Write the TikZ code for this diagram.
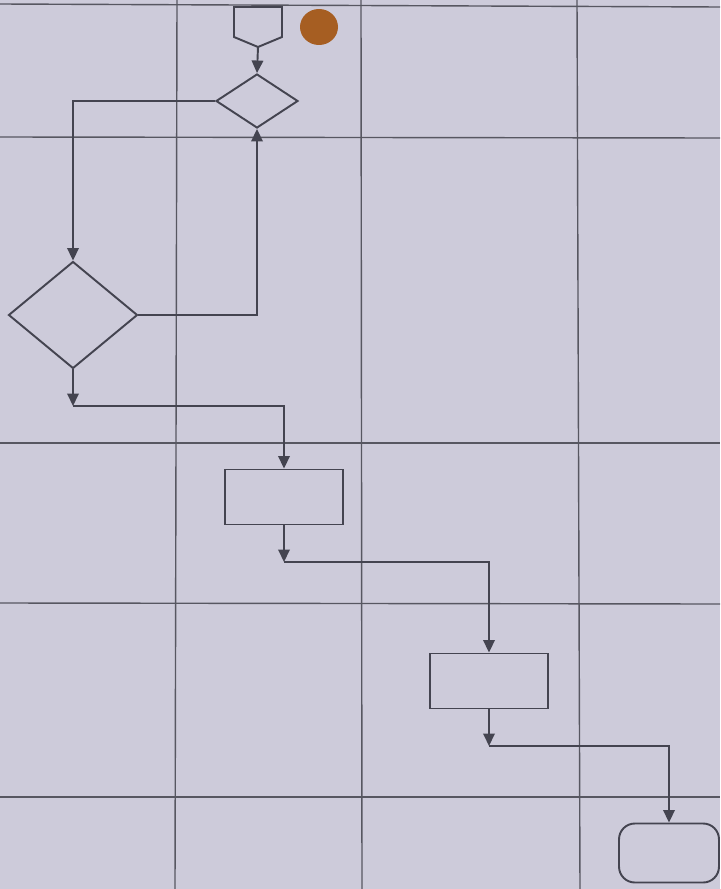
\documentclass[tikz,border=0pt]{standalone}
\usepackage{tikz}
\usetikzlibrary{arrows.meta,positioning,shapes.geometric}
\definecolor{paper}{RGB}{205,203,218}
\definecolor{ink}{RGB}{68,68,80}
\definecolor{stain}{RGB}{166,94,34}
\tikzset{
  lane/.style={draw=ink!90, line width=0.8pt},
  shp/.style={draw=ink, line width=1.1pt, inner sep=0pt},
  box/.style={shp, minimum width=2.36cm, minimum height=1.1cm},
  dec/.style={shp, diamond},
  term/.style={shp, rounded corners=9pt, minimum width=2cm, minimum height=1.18cm},
  arr/.style={-{Triangle[length=2.5mm, width=2.3mm]}, draw=ink, line width=1.1pt},
}

\begin{document}
\begin{tikzpicture}[x=0.02cm, y=-0.02cm]
\fill[paper] (0,0) rectangle (720,889);
\useasboundingbox (0,0) rectangle (720,889);
% swimlane grid
\foreach \y/\z in {4/7,137/138,443/443,603/604,797/797}{\draw[lane] (0,\y) -- (720,\z);}
\foreach \x/\z in {177/175,361/362,577/580}{\draw[lane] (\x,0) -- (\z,889);}
% off-page connector and stain
\draw[shp] (234,7) -- (234,37) -- (258,47) -- (282,37) -- (282,7) -- cycle;
\coordinate (opc) at (258,47);
\fill[stain] (319,27) ellipse [x radius=0.38cm, y radius=0.36cm];
% shapes
\node[dec, minimum width=1.64cm, minimum height=1.08cm] (d1) at (257,101) {};
\node[dec, minimum width=2.58cm, minimum height=2.14cm] (d2) at (73,315) {};
\node[box] (b1) at (284,497) {};
\node[box] (b2) at (489,681) {};
\node[term] (t1) at (669,853) {};
\coordinate (c1) at (73,406);
\coordinate (c2) at (284,562);
\coordinate (c3) at (489,746);
% connectors
\draw[arr] (opc) -- (d1.north);
\draw[arr] (d1.west) -| (d2.north);
\draw[arr] (d2.east) -| (d1.south);
\draw[arr] (d2.south) -- (c1);
\draw[arr] (c1) -| (b1.north);
\draw[arr] (b1.south) -- (c2);
\draw[arr] (c2) -| (b2.north);
\draw[arr] (b2.south) -- (c3);
\draw[arr] (c3) -| (t1.north);
\end{tikzpicture}
\end{document}
